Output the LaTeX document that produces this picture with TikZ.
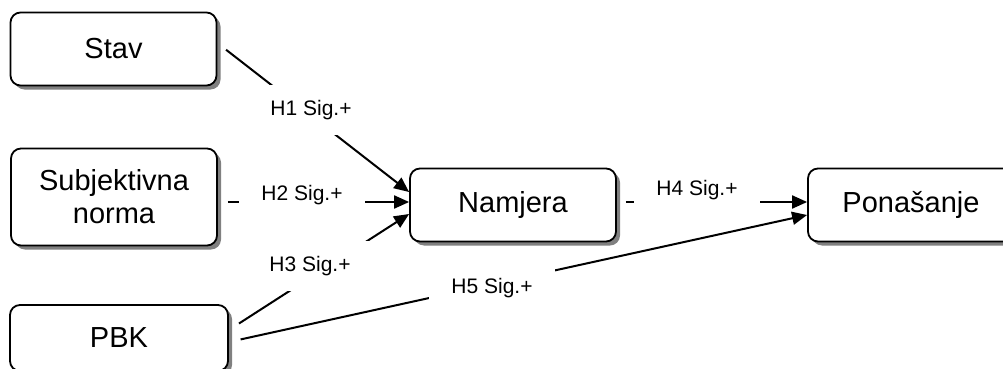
\documentclass[tikz,border=0pt]{standalone}
\usepackage{fontspec}
\setmainfont{Liberation Sans}
\usetikzlibrary{arrows.meta,shadows}

\tikzset{
  box/.style={draw, line width=1.8pt, rounded corners=10pt, fill=white,
    minimum width=206pt, minimum height=73pt, align=center,
    font=\fontsize{29}{33}\selectfont,
    drop shadow={shadow xshift=4pt, shadow yshift=-4pt, fill=black!50, opacity=1}},
  lbl/.style={fill=white, minimum width=126pt, minimum height=50pt, inner sep=0pt,
    font=\fontsize{21}{25}\selectfont},
  arr/.style={line width=2pt, -{Triangle[length=15pt,width=13pt]}}
}

\begin{document}
\begin{tikzpicture}[x=1pt,y=-1pt]
\clip (0,0) rectangle (1003,369);
\node[box] (stav) at (113.5,49) {Stav};
\node[box, minimum height=97pt] (subj) at (114,197) {Subjektivna\\norma};
\node[box, minimum width=218pt, minimum height=66pt] (pbk) at (119,338) {PBK};
\node[box] (namjera) at (513,205) {Namjera};
\node[box] (ponasanje) at (911,205) {Ponašanje};

\draw[arr, shorten <=11pt] ([yshift=6pt]stav.east) -- ([yshift=13pt]namjera.west);
\draw[arr, shorten <=10pt] ([yshift=-5pt]subj.east) -- ([yshift=3pt]namjera.west);
\draw[arr, shorten <=12pt] ([yshift=8pt]pbk.east) -- ([yshift=-9pt]namjera.west);
\draw[arr, shorten <=9pt] ([yshift=3pt]namjera.east) -- ([yshift=3pt]ponasanje.west);
\draw[arr, shorten <=12pt] ([yshift=-4pt]pbk.east) -- ([yshift=-10pt]ponasanje.west);

\node[lbl] (h1) at (311,110) {H1 Sig.+};
\node[lbl] (h2) at (302,195) {H2 Sig.+};
\node[lbl] (h3) at (310,266) {H3 Sig.+};
\node[lbl] (h4) at (697,190) {H4 Sig.+};
\node[lbl] (h5) at (492,288) {H5 Sig.+};
\end{tikzpicture}
\end{document}
